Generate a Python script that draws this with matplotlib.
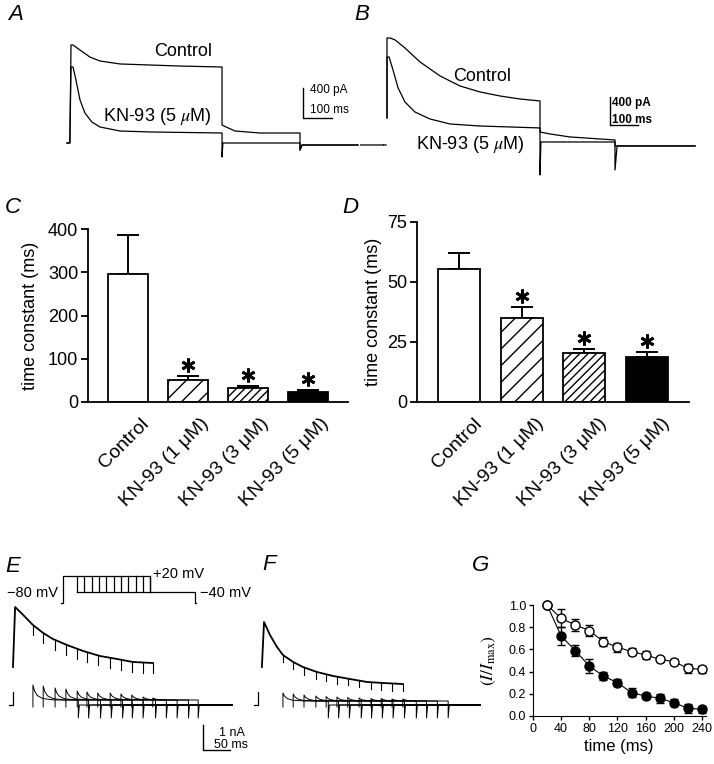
import numpy as np
import matplotlib
matplotlib.use("Agg")
import matplotlib.pyplot as plt
from matplotlib.transforms import ScaledTranslation

plt.rcParams['font.family'] = ['Liberation Sans', 'DejaVu Sans']
plt.rcParams['mathtext.fontset'] = 'stix'
plt.rcParams['hatch.linewidth'] = 1.0

# ---------------- data ----------------
# Panel A (ms, pA)
A_ctrl_t = [24, 34, 38, 45, 69, 103, 138, 207, 310, 414, 559, 559, 573, 604, 690, 828, 828, 835, 1028]
A_ctrl_i = [0, 0, 1225, 1225, 1162, 1075, 1025, 988, 975, 962, 950, 225, 200, 150, 125, 125, -88, -25, -25]
A_kn_t = [24, 34, 38, 45, 55, 69, 86, 110, 138, 207, 310, 559, 559, 562, 828, 828, 835, 1028]
A_kn_i = [0, 0, 950, 950, 788, 538, 375, 262, 200, 150, 138, 125, -175, 0, 0, -88, -25, -25]

# Panel B (ms, pA)
B_ctrl_t = [0, 77, np.nan, 80, 87, np.nan, 90, 90, 100, 117, 150, 200, 267, 333, 400, 467, 533, 600,
            600, 633, 700, 800, 850, 850, 1117]
B_ctrl_i = [0, 0, np.nan, 0, 0, np.nan, 360, 1427, 1427, 1400, 1293, 1107, 920, 787, 707, 653, 613, 587,
            173, 147, 107, 80, 67, -13, -13]
B_kn_t = [90, 90, 97, 110, 127, 150, 183, 233, 300, 400, 500, 600, 600, 603, 850, 850, 857, 1117]
B_kn_i = [360, 1173, 1173, 1000, 760, 573, 440, 347, 280, 253, 240, 227, -400, 40, 40, -333, -13, -13]

# Panel E/F traces (ms, nA)
E_decay_t = [24, 28, 43, 61, 80, 98, 124, 154, 185, 217, 246, 283]
E_decay_i = [1.52, 3.92, 3.60, 3.20, 2.88, 2.64, 2.40, 2.16, 1.96, 1.84, 1.72, 1.68]
E_ends = [61, 80, 102, 122, 143, 161, 181, 204, 224, 244, 265, 283]
E_end_i = [3.20, 2.88, 2.60, 2.42, 2.25, 2.11, 1.99, 1.89, 1.82, 1.73, 1.70, 1.68]
E_tail_peak = [0.80, 0.76, 0.68, 0.64, 0.56, 0.52, 0.48, 0.48, 0.44, 0.40, 0.32, 0.28]
E_plateau = 0.20

F_decay_t = [22, 26, 37, 50, 61, 80, 98, 124, 154, 185, 217, 246, 283]
F_decay_i = [1.52, 3.32, 2.80, 2.32, 2.00, 1.72, 1.52, 1.32, 1.16, 1.04, 0.92, 0.88, 0.84]
F_ends = [61, 80, 100, 122, 141, 161, 181, 202, 224, 243, 263, 283]
F_end_i = [2.00, 1.72, 1.50, 1.33, 1.23, 1.14, 1.07, 1.00, 0.92, 0.89, 0.86, 0.84]
F_tail_peak = [0.48, 0.44, 0.40, 0.36, 0.34, 0.32, 0.30, 0.28, 0.26, 0.26, 0.24, 0.24]
F_plateau = 0.16

# tail profile: offsets (ms) and fraction of (peak - plateau)
TAIL_DT = [0, 0, 3, 8, 18, 40, 84]
TAIL_FRAC = [None, 1.0, 0.6, 0.3, 0.1, 0.0, 0.0]

# voltage protocol (schematic, ms, mV)
proto_durs = [40, 60, 80, 100, 120, 140, 160, 180, 200, 220, 240]
proto_levels = [-80, 20, -40]

# Panels C, D
groups = ["Control", "KN-93 (1 \u03bcM)", "KN-93 (3 \u03bcM)", "KN-93 (5 \u03bcM)"]
C_mean = [297, 52, 33, 24]
C_err = [90, 8, 5, 3]
D_mean = [55.4, 35.0, 20.4, 18.7]
D_err = [6.6, 4.6, 1.6, 2.1]

# Panel G
G_time = [20, 40, 60, 80, 100, 120, 140, 160, 180, 200, 220, 240]
G_ctrl = [1.00, 0.88, 0.82, 0.77, 0.67, 0.62, 0.58, 0.55, 0.51, 0.49, 0.43, 0.42]
G_ctrl_err = [0, 0.08, 0.05, 0.05, 0.04, 0.04, 0.03, 0.04, 0.02, 0.02, 0.04, 0.03]
G_kn = [1.00, 0.72, 0.59, 0.45, 0.36, 0.30, 0.21, 0.18, 0.16, 0.12, 0.07, 0.06]
G_kn_err = [0, 0.08, 0.05, 0.06, 0.04, 0.03, 0.04, 0.03, 0.04, 0.03, 0.04, 0.03]

# ---------------- figure ----------------
W, H = 714, 764
fig = plt.figure(figsize=(W / 100, H / 100), dpi=100)
fig.patch.set_facecolor('white')


def pax(x0, y0, x1, y1):
    return fig.add_axes([x0 / W, 1 - y1 / H, (x1 - x0) / W, (y1 - y0) / H])


def trace_ax(x0, y0, x1, y1, xlim, ylim):
    ax = pax(x0, y0, x1, y1)
    ax.set_xlim(*xlim)
    ax.set_ylim(*ylim)
    ax.axis('off')
    ax.patch.set_alpha(0)
    return ax


LW = 0.9
# panel letters
for lab, x, y in [("A", 8, 20), ("B", 354, 20), ("C", 5, 213), ("D", 342, 213),
                  ("E", 5, 572), ("F", 262, 570), ("G", 472, 571)]:
    fig.text(x / W, 1 - y / H, lab, fontsize=16, style='italic', ha='left', va='baseline')

# ---- A ----
axA = trace_ax(60, 30, 360, 170, (0, 1035), (-337.5, 1412.5))
axA.plot(A_ctrl_t, A_ctrl_i, color='k', lw=LW)
axA.plot(A_kn_t, A_kn_i, color='k', lw=LW)
axA.text(424, 1140, "Control", fontsize=13, ha='center', va='center')
axA.text(335, 337, "KN-93 (5 $\\mu$M)", fontsize=13, ha='center', va='center')
axA.plot([838, 838, 938], [688, 312, 312], color='k', lw=1.0)
axA.text(862, 662, "400 pA", fontsize=8.5, ha='left', va='center')
axA.text(862, 412, "100 ms", fontsize=8.5, ha='left', va='center')

# ---- B ----
axB = trace_ax(360, 30, 714, 180, (0, 1180), (-467, 1533))
axB.plot(B_ctrl_t, B_ctrl_i, color='k', lw=LW)
axB.plot(B_kn_t, B_kn_i, color='k', lw=LW)
axB.text(407, 907, "Control", fontsize=13, ha='center', va='center')
axB.text(367, 0, "KN-93 (5 $\\mu$M)", fontsize=13, ha='center', va='center')
axB.plot([833, 833, 927], [640, 267, 267], color='k', lw=1.0)
axB.text(840, 560, "400 pA", fontsize=8.5, fontweight='bold', ha='left', va='center')
axB.text(840, 330, "100 ms", fontsize=8.5, fontweight='bold', ha='left', va='center')


def draw_family(ax, dec_t, dec_i, ends, end_i, peaks, plateau, tick_len, base_end, art_t):
    ax.plot(dec_t, dec_i, color='k', lw=1.3)
    for te, ie, p in zip(ends, end_i, peaks):
        ax.plot([te, te], [ie, ie - tick_len], color='k', lw=0.8)
        tt = [te + d for d in TAIL_DT]
        ii = [-0.08] + [plateau + f * (p - plateau) for f in TAIL_FRAC[1:]]
        tt += [te + TAIL_DT[-1], te + TAIL_DT[-1] + 2, base_end]
        ii += [-0.52, 0.0, 0.0]
        ax.plot(tt, ii, color='k', lw=0.7)
    # capacitive artifact at start
    ax.plot([art_t - 7, art_t, art_t], [0.0, 0.0, 0.52], color='k', lw=0.9)


# ---- E ----
axE = trace_ax(0, 560, 250, 764, (0, 463), (-2.36, 5.8))
draw_family(axE, E_decay_t, E_decay_i, E_ends, E_end_i, E_tail_peak, E_plateau, 0.4, 430, 24)
axE.plot([376, 376, 426], [-0.8, -1.8, -1.8], color='k', lw=1.0)
axE.text(430, -1.12, "1 nA", fontsize=9, ha='center', va='center')
axE.text(428, -1.58, "50 ms", fontsize=9, ha='center', va='center')

# protocol
axP = trace_ax(0, 565, 250, 615, (-175.4, 509.6), (-124.4, 60.7))
p_start = -4
longest = p_start + proto_durs[-1]
first = p_start + proto_durs[0]
axP.plot([p_start - 4, p_start, p_start, longest, longest],
         [proto_levels[0], proto_levels[0], proto_levels[1], proto_levels[1], proto_levels[2]], color='k', lw=0.9)
axP.plot([first, 359, 359, 362], [proto_levels[2], proto_levels[2], proto_levels[0], proto_levels[0]],
         color='k', lw=0.9)
for d in proto_durs:
    axP.plot([p_start + d, p_start + d], [proto_levels[1], proto_levels[2]], color='k', lw=0.9)
axP.text(-16, -43, "\u221280 mV", fontsize=10.5, ha='right', va='center')
axP.text(244, 27, "+20 mV", fontsize=10.5, ha='left', va='center')
axP.text(373, -43, "\u221240 mV", fontsize=10.5, ha='left', va='center')

# ---- F ----
axF = trace_ax(250, 560, 490, 764, (0, 444.5), (-2.36, 5.8))
draw_family(axF, F_decay_t, F_decay_i, F_ends, F_end_i, F_tail_peak, F_plateau, 0.28, 426, 15)


# ---- C, D ----
def bar_panel(ax, means, errs, ylim, yticks, hatches, label_dx, label_dy):
    x = np.arange(len(means))
    faces = ['white', 'white', 'white', 'black']
    for xi, m, e, fc, h in zip(x, means, errs, faces, hatches):
        ax.bar(xi, m, width=0.667, color=fc, edgecolor='k', lw=1.3, hatch=h, zorder=2)
        ax.errorbar(xi, m, yerr=[[0], [e]], fmt='none', ecolor='k', elinewidth=1.4,
                    capsize=8, capthick=1.4, zorder=1)
    off = ScaledTranslation(0, 11 / 100, fig.dpi_scale_trans)
    for xi, m, e in list(zip(x, means, errs))[1:]:
        ax.plot([xi], [m + e], marker=(6, 2, 0), ms=10, mew=2.0, color='k',
                transform=ax.transData + off, clip_on=False)
    ax.set_xlim(-0.667, 3.667)
    ax.set_ylim(*ylim)
    ax.set_yticks(yticks)
    ax.set_xticks(x)
    ax.set_xticklabels([])
    sh = ScaledTranslation(label_dx / 100, -label_dy / 100, fig.dpi_scale_trans)
    for xi, g in zip(x, groups):
        ax.text(xi, 0, g, transform=ax.get_xaxis_transform() + sh, rotation=45,
                ha='right', va='top', rotation_mode='anchor', fontsize=14)
    ax.tick_params(axis='x', length=0, pad=6)
    ax.tick_params(axis='y', length=5, width=1.3, labelsize=13, pad=2)
    for s in ['top', 'right']:
        ax.spines[s].set_visible(False)
    for s in ['left', 'bottom']:
        ax.spines[s].set_linewidth(1.3)
    ax.patch.set_alpha(0)


axC = pax(88, 229, 348, 402)
bar_panel(axC, C_mean, C_err, (0, 400), [0, 100, 200, 300, 400], [None, '//', '////', None], 12, 13)
axC.set_ylabel("time constant (ms)", fontsize=13)
axC.yaxis.set_label_coords(-0.19, 0.5)

axD = pax(417, 222, 689, 402)
bar_panel(axD, D_mean, D_err, (0, 75), [0, 25, 50, 75], [None, '//', '////', None], 14, 13)
axD.set_ylabel("time constant (ms)", fontsize=13)
axD.yaxis.set_label_coords(-0.13, 0.5)

# ---- G ----
axG = pax(533, 605, 705.5, 716)
axG.errorbar(G_time, G_kn, yerr=G_kn_err, fmt='-o', color='k', mfc='k', mec='k', ms=6.5,
             lw=0.8, elinewidth=1.0, capsize=3, capthick=1.0, clip_on=False)
axG.errorbar(G_time, G_ctrl, yerr=G_ctrl_err, fmt='-o', color='k', mfc='white', mec='k', ms=6.5,
             mew=1.0, lw=0.8, elinewidth=1.0, capsize=3, capthick=1.0, clip_on=False)
axG.set_xlim(0, 245)
axG.set_ylim(0, 1.0)
axG.set_xticks([0, 40, 80, 120, 160, 200, 240])
axG.set_yticks([0.0, 0.2, 0.4, 0.6, 0.8, 1.0])
axG.set_yticklabels(["0.0", "0.2", "0.4", "0.6", "0.8", "1.0"])
axG.tick_params(length=3, width=1.0, labelsize=9, pad=2)
for s in ['top', 'right']:
    axG.spines[s].set_visible(False)
axG.set_xlabel("time (ms)", fontsize=12, labelpad=3)
axG.set_ylabel("$(I/I_{\\rm max})$", fontsize=12.5)
axG.yaxis.set_label_coords(-0.2, 0.5)
axG.patch.set_alpha(0)

fig.savefig("out.png", dpi=100, facecolor='white')
